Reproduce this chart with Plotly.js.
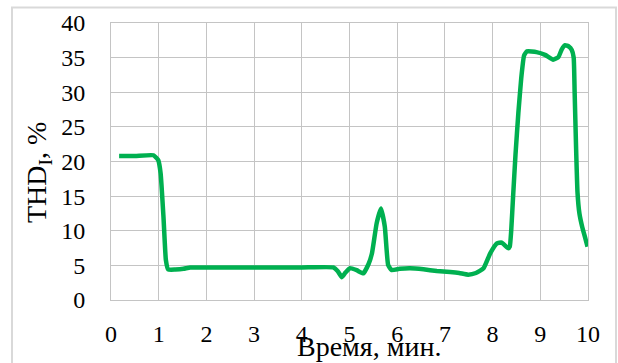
<!DOCTYPE html>
<html>
<head>
<meta charset="utf-8">
<script src="https://cdn.plot.ly/plotly-3.0.1.min.js"></script>
<style>
  html, body { margin: 0; padding: 0; background: #fff; }
  #chart { width: 618px; height: 363px; }
</style>
</head>
<body>
<div id="chart"></div>
<script>
// Time, minutes
const timeMin = [0.17, 0.50, 0.89, 0.99, 1.04, 1.10, 1.15, 1.20, 1.35, 1.52, 1.66, 2.0, 3.0, 4.0, 4.66,
  4.75, 4.84, 4.92, 5.01, 5.15, 5.29, 5.40, 5.47, 5.57, 5.66, 5.74, 5.81, 5.88, 6.05, 6.27, 6.55, 6.83,
  7.11, 7.30, 7.49, 7.65, 7.81, 7.95, 8.09, 8.19, 8.33, 8.36, 8.39, 8.43, 8.48, 8.54, 8.60, 8.66, 8.72,
  8.92, 9.10, 9.27, 9.38, 9.45, 9.52, 9.60, 9.66, 9.70, 9.72, 9.75, 9.78, 9.82, 9.88, 9.94, 9.99];
// THD_I, %
const thdValues = [20.8, 20.8, 20.9, 20.2, 18.3, 12.0, 5.8, 4.4, 4.4, 4.5, 4.7, 4.7, 4.7, 4.7, 4.7,
  4.2, 3.3, 4.0, 4.6, 4.3, 3.85, 5.2, 6.7, 11.1, 13.2, 10.6, 5.05, 4.33, 4.5, 4.58, 4.43, 4.19,
  4.04, 3.9, 3.66, 3.9, 4.58, 6.74, 8.18, 8.28, 7.46, 7.7, 10.0, 15.0, 21.0, 27.0, 32.0, 35.3, 35.9,
  35.8, 35.4, 34.7, 35.1, 36.2, 36.8, 36.6, 36.1, 35.0, 30.0, 22.0, 15.5, 12.5, 10.5, 9.0, 7.7];
const xTicks = [0, 1, 2, 3, 4, 5, 6, 7, 8, 9, 10];
const yTicks = [0, 5, 10, 15, 20, 25, 30, 35, 40];

const gridColor = '#c4c4c4';
const serif = 'Liberation Serif, Times New Roman, serif';

const trace = {
  x: timeMin,
  y: thdValues,
  type: 'scatter',
  mode: 'lines',
  line: { color: '#00B050', width: 4.5, shape: 'spline', smoothing: 0.4 },
  hoverinfo: 'skip'
};

const L = 111, R = 588, T = 23, B = 300;
const W = 618, H = 363;
const px2x = p => (p - L) / (R - L);
const py2y = p => (B - p) / (B - T);

const layout = {
  width: W, height: H,
  margin: { l: L, r: W - R, t: T, b: H - B, pad: 0 },
  paper_bgcolor: '#ffffff',
  plot_bgcolor: '#ffffff',
  showlegend: false,
  font: { family: serif, color: '#000000', size: 24 },
  xaxis: {
    range: [0, 10],
    tickvals: xTicks,
    ticktext: xTicks.map(String),
    showgrid: true, gridcolor: gridColor, gridwidth: 1,
    zeroline: false,
    showline: true, linecolor: gridColor, linewidth: 1, mirror: true,
    ticks: '',
    ticklabelstandoff: 12,
    tickfont: { family: serif, size: 24, color: '#000' },
    fixedrange: true
  },
  yaxis: {
    range: [0, 40],
    tickvals: yTicks,
    ticktext: yTicks.map(String),
    showgrid: true, gridcolor: gridColor, gridwidth: 1,
    zeroline: false,
    showline: true, linecolor: gridColor, linewidth: 1, mirror: true,
    ticks: '',
    ticklabelstandoff: 20,
    tickfont: { family: serif, size: 24, color: '#000' },
    fixedrange: true
  },
  shapes: [{
    type: 'rect', xref: 'paper', yref: 'paper',
    x0: px2x(12), x1: px2x(616), y0: py2y(380), y1: py2y(7.5),
    line: { color: '#d9d9d9', width: 2 }, fillcolor: 'rgba(0,0,0,0)', layer: 'below'
  }],
  annotations: [
    {
      text: 'Время, мин.', xref: 'paper', yref: 'paper',
      x: px2x(369), y: py2y(346), xanchor: 'center', yanchor: 'middle',
      showarrow: false, font: { family: serif, size: 28, color: '#000' }
    },
    {
      text: 'THD<sub>I</sub>, %', xref: 'paper', yref: 'paper',
      x: px2x(39), y: py2y(173), xanchor: 'center', yanchor: 'middle',
      textangle: -90,
      showarrow: false, font: { family: serif, size: 28, color: '#000' }
    }
  ]
};

Plotly.newPlot('chart', [trace], layout, { staticPlot: true, displayModeBar: false });
</script>
</body>
</html>
